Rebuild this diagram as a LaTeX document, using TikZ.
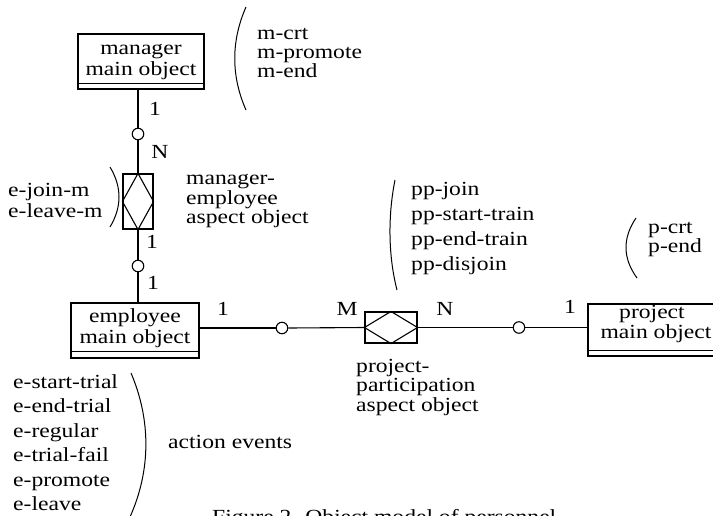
\documentclass[tikz,border=0pt]{standalone}
\usepackage{fontspec}
\setmainfont{Liberation Serif}[FakeStretch=1.18]
\begin{document}
\begin{tikzpicture}[x=1pt,y=-1pt,
  lbl/.style={font=\fontsize{20}{20}\selectfont, inner sep=0pt},
  lw/.style={lbl, anchor=base west},
  lc/.style={lbl, anchor=base},
  mainbox/.style={draw, line width=1.1pt, inner sep=0pt},
  aspbox/.style={draw, line width=1.1pt, inner sep=0pt},
  link/.style={line width=1.1pt},
  opt/.style={circle, draw, line width=1.1pt, fill=white, minimum size=11.5pt, inner sep=0pt},
  paren/.style={line width=1pt}]
\useasboundingbox (0,0) rectangle (713,515);
\clip (0,0) rectangle (713,515);

% main object boxes
\node[mainbox, minimum width=126pt, minimum height=55pt] (mgr) at (141,61.5) {};
\node[mainbox, minimum width=128pt, minimum height=55pt] (emp) at (135,330.5) {};
\node[mainbox, minimum width=136pt, minimum height=52pt] (proj) at (656,330) {};
\draw[link] ([yshift=6pt]mgr.south west) -- ([yshift=6pt]mgr.south east);
\draw[link] ([yshift=7pt]emp.south west) -- ([yshift=7pt]emp.south east);
\draw[link] ([yshift=6pt]proj.south west) -- ([yshift=6pt]proj.south east);

\node[lc] (mgrA) at (141,54) {manager};
\node[lc] (mgrB) at (141,75) {main object};
\node[lc] (empA) at (135,322) {employee};
\node[lc] (empB) at (135,343) {main object};
\node[lc] (projA) at (652,318) {project};
\node[lc] (projB) at (656,338) {main object};

% aspect objects
\node[aspbox, minimum width=30pt, minimum height=55pt] (a1) at (138,201.5) {};
\draw[link] (a1.north) -- (a1.east) -- (a1.south) -- (a1.west) -- cycle;
\node[aspbox, minimum width=52pt, minimum height=31pt] (a2) at (391,327.5) {};
\draw[link] (a2.north) -- (a2.east) -- (a2.south) -- (a2.west) -- cycle;

% optional circles
\node[opt] (c1) at (138,134) {};
\node[opt] (c2) at (138,266) {};
\node[opt] (c3) at (282,328) {};
\node[opt] (c4) at (519,327.5) {};

% connectors
\draw[link] (c1 |- mgr.south) -- (c1.north);
\draw[link] (c1.south) -- (a1.north);
\draw[link] (a1.south) -- (c2.north);
\draw[link] (c2.south) -- (c2 |- emp.north);
\draw[link] (c3 -| emp.east) -- (c3.west);
\draw[link] (c3.east) -- (a2.west);
\draw[link] (a2.east) -- (c4.west);
\draw[link] (c4.east) -- (c4 -| proj.west);

% cardinalities
\node[lc] (k1) at (155,115) {1};
\node[lc] (k2) at (160,158) {N};
\node[lc] (k3) at (152,248) {1};
\node[lc] (k4) at (153,289) {1};
\node[lc] (k5) at (223,315) {1};
\node[lc] (k6) at (347,315) {M};
\node[lc] (k7) at (445,315) {N};
\node[lc] (k8) at (570,313) {1};

% manager events
\coordinate (pm1) at (246,7);
\coordinate (pm2) at (246,110);
\draw[paren] (pm1) .. controls (231,41) and (231,76) .. (pm2);
\node[lw] (m1) at (257,39) {m-crt};
\node[lw] (m2) at (257,58.5) {m-promote};
\node[lw] (m3) at (257,77.5) {m-end};

% manager-employee aspect
\coordinate (pj1) at (110,167);
\coordinate (pj2) at (110,227);
\draw[paren] (pj1) .. controls (122,187) and (122,207) .. (pj2);
\node[lw] (j1) at (8,196) {e-join-m};
\node[lw] (j2) at (8,217) {e-leave-m};
\node[lw] (me1) at (186,184.5) {manager-};
\node[lw] (me2) at (186,204) {employee};
\node[lw] (me3) at (186,223) {aspect object};

% employee events
\coordinate (pe1) at (131,373);
\coordinate (pe2) at (130,517);
\draw[paren] (pe1) .. controls (151,420) and (151,470) .. (pe2);
\node[lw] (e1) at (13,388) {e-start-trial};
\node[lw] (e2) at (13,412.5) {e-end-trial};
\node[lw] (e3) at (13,437) {e-regular};
\node[lw] (e4) at (13,461.5) {e-trial-fail};
\node[lw] (e5) at (13,486) {e-promote};
\node[lw] (e6) at (13,510) {e-leave};
\node[lw] (ae) at (168,448) {action events};

% project participation events
\coordinate (pp1) at (395,180);
\coordinate (pp2) at (397,290);
\draw[paren] (pp1) .. controls (388,215) and (388,255) .. (pp2);
\node[lw] (q1) at (411,195) {pp-join};
\node[lw] (q2) at (411,220) {pp-start-train};
\node[lw] (q3) at (411,245) {pp-end-train};
\node[lw] (q4) at (411,270) {pp-disjoin};
\node[lw] (pa1) at (356,372) {project-};
\node[lw] (pa2) at (356,391) {participation};
\node[lw] (pa3) at (356,411) {aspect object};

% project events
\coordinate (pr1) at (636,218);
\coordinate (pr2) at (637,278);
\draw[paren] (pr1) .. controls (622.5,238) and (622.5,258) .. (pr2);
\node[lw] (r1) at (648,233) {p-crt};
\node[lw] (r2) at (648,252.5) {p-end};

% caption (cut off at the bottom)
\node[lw] (cap) at (212,523) {Figure 2. Object model of personnel};
\end{tikzpicture}
\end{document}
